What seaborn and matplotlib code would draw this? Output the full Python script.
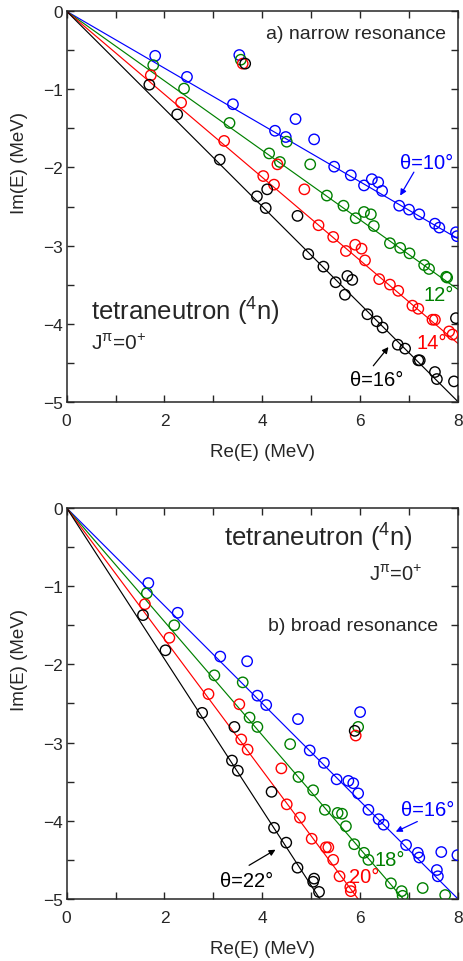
import numpy as np
import matplotlib
matplotlib.use("Agg")
import matplotlib.pyplot as plt
import seaborn as sns

# ---- complex-scaling eigenvalues, panel a (narrow resonance) ----
theta_a = [10, 12, 14, 16]
re_a10 = [1.81, 2.46, 3.53, 3.40, 4.68, 4.26, 4.48, 5.06, 5.47, 5.81, 6.08, 6.24, 6.37, 6.45, 6.80, 7.00, 7.21, 7.53, 7.62, 7.96, 7.98]
im_a10 = [-0.57, -0.84, -0.56, -1.19, -1.38, -1.53, -1.61, -1.64, -1.99, -2.10, -2.23, -2.15, -2.19, -2.30, -2.49, -2.54, -2.60, -2.72, -2.77, -2.83, -2.88]
re_a12 = [1.77, 2.40, 3.56, 3.33, 4.50, 4.14, 4.36, 4.98, 5.32, 5.66, 5.91, 6.08, 6.22, 6.28, 6.61, 6.82, 7.01, 7.31, 7.41, 7.76, 7.78]
im_a12 = [-0.69, -0.99, -0.62, -1.43, -1.67, -1.82, -1.93, -1.96, -2.36, -2.49, -2.65, -2.57, -2.60, -2.75, -2.97, -3.03, -3.10, -3.25, -3.30, -3.40, -3.41]
re_a14 = [1.72, 3.60, 2.34, 3.22, 4.31, 4.02, 4.24, 4.86, 5.15, 5.45, 5.71, 5.90, 6.03, 6.10, 6.39, 6.61, 6.78, 7.07, 7.19, 7.48, 7.53, 7.82, 7.89]
im_a14 = [-0.82, -0.67, -1.17, -1.66, -1.96, -2.11, -2.22, -2.28, -2.74, -2.89, -3.07, -2.99, -3.04, -3.19, -3.43, -3.50, -3.58, -3.77, -3.81, -3.95, -3.95, -4.10, -4.14]
re_a16 = [1.69, 3.65, 2.26, 3.13, 3.89, 4.10, 4.07, 4.72, 4.94, 5.25, 5.50, 5.74, 5.84, 5.69, 6.15, 6.34, 6.46, 6.77, 6.92, 7.19, 7.22, 7.53, 7.57, 7.92, 7.96]
im_a16 = [-0.94, -0.67, -1.32, -1.90, -2.37, -2.28, -2.52, -2.62, -3.11, -3.27, -3.47, -3.39, -3.44, -3.63, -3.88, -3.97, -4.05, -4.27, -4.32, -4.47, -4.47, -4.62, -4.71, -4.74, -3.93]

# ---- complex-scaling eigenvalues, panel b (broad resonance) ----
theta_b = [16, 18, 20, 22]
re_b16 = [1.67, 2.27, 3.14, 3.69, 3.90, 4.08, 4.73, 6.00, 4.97, 5.26, 5.52, 5.76, 5.86, 5.96, 6.17, 6.38, 6.48, 6.94, 7.18, 7.21, 7.66, 7.99, 7.57, 7.59]
im_b16 = [-0.96, -1.34, -1.90, -1.96, -2.40, -2.52, -2.70, -2.61, -3.10, -3.26, -3.47, -3.49, -3.52, -3.65, -3.86, -3.98, -4.05, -4.31, -4.41, -4.47, -4.40, -4.44, -4.63, -4.71]
re_b18 = [1.64, 2.20, 3.02, 3.60, 3.74, 3.90, 5.96, 4.57, 4.74, 5.04, 5.28, 5.54, 5.63, 5.71, 5.88, 6.08, 6.17, 6.63, 6.85, 6.87, 7.28, 7.74]
im_b18 = [-1.09, -1.50, -2.14, -2.23, -2.68, -2.80, -2.80, -3.02, -3.44, -3.61, -3.86, -3.90, -3.91, -4.07, -4.30, -4.41, -4.50, -4.80, -4.90, -4.96, -4.86, -4.95]
re_b20 = [1.60, 2.10, 2.90, 3.53, 5.91, 3.57, 3.70, 4.39, 4.50, 4.77, 5.01, 5.30, 5.35, 5.45, 5.58, 5.80, 5.81]
im_b20 = [-1.23, -1.66, -2.38, -2.51, -2.91, -2.96, -3.09, -3.33, -3.79, -3.96, -4.23, -4.34, -4.34, -4.50, -4.71, -4.85, -4.90]
re_b22 = [1.56, 2.02, 2.77, 3.43, 5.89, 3.38, 3.50, 4.19, 4.24, 4.49, 4.72, 5.06, 5.04, 5.16]
im_b22 = [-1.37, -1.82, -2.62, -2.80, -2.85, -3.23, -3.36, -3.63, -4.09, -4.28, -4.60, -4.74, -4.78, -4.91]

series_colors = ["#0000ff", "#008000", "#ff0000", "#000000"]

sns.set_style("ticks")
plt.rcParams["font.family"] = ["Liberation Sans", "DejaVu Sans"]
plt.rcParams["mathtext.fontset"] = "custom"
plt.rcParams["mathtext.rm"] = "Liberation Sans"
plt.rcParams["mathtext.it"] = "Liberation Sans:italic"

fig = plt.figure(figsize=(4.63, 9.62), dpi=100)
ax_a = fig.add_axes([0.144, 0.5814, 0.845, 0.4058])
ax_b = fig.add_axes([0.144, 0.0645, 0.845, 0.4064])

def draw_panel(ax, thetas, res, ims):
    xs = np.array([0.0, 8.0])
    for th, c in zip(thetas, series_colors):
        slope = -np.tan(np.radians(2 * th))
        sns.lineplot(x=xs, y=slope * xs, ax=ax, color=c, lw=0.85, zorder=2)
    for re_v, im_v, c in zip(res, ims, series_colors):
        sns.scatterplot(x=re_v, y=im_v, ax=ax, marker="o", s=56,
                        facecolors="none", edgecolors=c, linewidths=1.0, zorder=3)
    ax.set_xlim(0, 8)
    ax.set_ylim(-5, 0)
    ax.set_xticks([0, 2, 4, 6, 8])
    ax.set_xticks([1, 3, 5, 7], minor=True)
    ax.set_yticks([0, -1, -2, -3, -4, -5])
    ax.set_yticks([-0.5, -1.5, -2.5, -3.5, -4.5], minor=True)
    ax.tick_params(which="both", direction="in", top=True, right=True,
                   length=5, width=1.0, labelsize=12.5)
    ax.tick_params(axis="x", pad=8)
    ax.tick_params(axis="y", pad=3)
    for sp in ax.spines.values():
        sp.set_linewidth(1.1)
        sp.set_visible(True)
    ax.set_xlabel("Re(E) (MeV)", fontsize=13.5, labelpad=11)
    ax.set_ylabel("Im(E) (MeV)", fontsize=13.5)
    ax.yaxis.set_label_coords(-0.1, 0.615)

draw_panel(ax_a, theta_a, [re_a10, re_a12, re_a14, re_a16], [im_a10, im_a12, im_a14, im_a16])
draw_panel(ax_b, theta_b, [re_b16, re_b18, re_b20, re_b22], [im_b16, im_b18, im_b20, im_b22])

arrow = dict(arrowstyle="-|>", lw=0.9, mutation_scale=9, shrinkA=0, shrinkB=0)

# panel a labels
ax_a.text(7.76, -0.29, "a) narrow resonance", ha="right", va="center", fontsize=14)
ax_a.text(0.5, -3.84, r"tetraneutron ($\mathregular{^4}$n)", ha="left", va="center", fontsize=18.5)
ax_a.text(0.5, -4.25, r"J$\mathregular{^{π}}$=0$\mathregular{^{+}}$", ha="left", va="center", fontsize=15)
ax_a.text(6.82, -1.93, "θ=10°", color=series_colors[0], ha="left", va="center", fontsize=14.5)
ax_a.annotate("", xy=(6.82, -2.36), xytext=(7.10, -2.06), arrowprops=dict(arrow, color=series_colors[0]))
ax_a.text(7.29, -3.63, "12°", color=series_colors[1], ha="left", va="center", fontsize=14.5)
ax_a.text(7.15, -4.24, "14°", color=series_colors[2], ha="left", va="center", fontsize=14.5)
ax_a.text(5.80, -4.72, "θ=16°", color=series_colors[3], ha="left", va="center", fontsize=14.5)
ax_a.annotate("", xy=(6.58, -4.30), xytext=(6.27, -4.54), arrowprops=dict(arrow, color=series_colors[3]))

# panel b labels
ax_b.text(7.08, -0.37, r"tetraneutron ($\mathregular{^4}$n)", ha="right", va="center", fontsize=18.5)
ax_b.text(7.28, -0.84, r"J$\mathregular{^{π}}$=0$\mathregular{^{+}}$", ha="right", va="center", fontsize=14.5)
ax_b.text(7.59, -1.50, "b) broad resonance", ha="right", va="center", fontsize=14)
ax_b.text(6.84, -3.86, "θ=16°", color=series_colors[0], ha="left", va="center", fontsize=14.5)
ax_b.annotate("", xy=(6.73, -4.14), xytext=(7.17, -4.01), arrowprops=dict(arrow, color=series_colors[0]))
ax_b.text(6.30, -4.49, "18°", color=series_colors[1], ha="left", va="center", fontsize=14.5)
ax_b.text(5.77, -4.71, "20°", color=series_colors[2], ha="left", va="center", fontsize=14.5)
ax_b.text(3.14, -4.77, "θ=22°", color=series_colors[3], ha="left", va="center", fontsize=14.5)
ax_b.annotate("", xy=(4.27, -4.37), xytext=(3.73, -4.57), arrowprops=dict(arrow, color=series_colors[3]))

fig.savefig("out.png", dpi=100)
